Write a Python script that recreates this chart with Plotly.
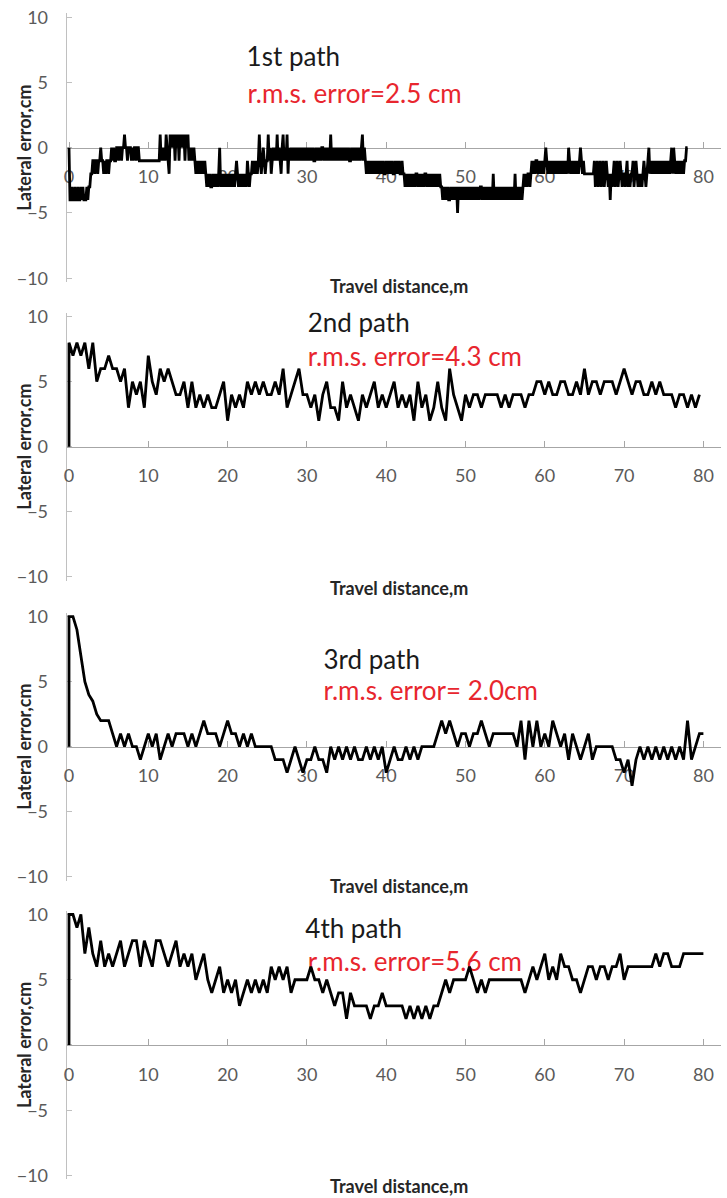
import plotly.graph_objects as go

W, H = 727, 1198

# ---------------- data (lateral error, cm) ----------------
# 1st path sampled every 0.125 m from 0 m (one row = 1 m)
step1 = 0.125
path1_err = [
    0, -4, -4, -3, -4, -4, -3, -4,
    -4, -3, -4, -4, -3, -4, -3, -4,
    -4, -4, -3, -4, -3, -3, -2, -2,
    -1, -1, -2, -1, -1, -2, -1, -1,
    0, -1, -1, -2, -1, -2, -1, -1,
    -2, -1, -1, 0, -1, 0, -1, -1,
    0, 0, -1, 0, 0, -1, 0, 0,
    1, 0, 0, -1, 0, 0, 0, -1,
    0, -1, 0, 0, -1, 0, 0, -1,
    -1, -1, -1, -1, -1, -1, -1, -1,
    -1, -1, -1, -1, -1, -1, -1, -1,
    -1, -1, -1, -1, 1, -1, 0, -1,
    0, -1, 1, 0, -1, -2, 1, 0,
    1, 0, 1, -1, 1, 0, 1, -1,
    1, 0, 1, 0, 1, -1, 1, 0,
    1, -1, 0, -1, 0, -1, 0, -1,
    -2, -1, -2, -1, -2, -1, -2, -1,
    -2, -1, -2, -3, -2, -3, -2, -3,
    -3, -2, -3, -2, -3, -2, -3, -2,
    0, -3, -2, -3, -2, -3, -2, -3,
    -2, -3, -2, -3, -2, -3, -2, -3,
    -2, -1, -2, -3, -2, -3, -2, -3,
    -2, -3, -2, -3, -1, -2, -3, -2,
    -2, -1, -2, -1, -2, -1, -2, -1,
    1, -1, -2, -1, 0, -1, -2, -1,
    -1, 1, -1, 0, -2, -1, 0, -1,
    0, -1, 1, -1, 0, -1, -2, 0,
    1, -1, 0, -1, 1, -2, 0, -1,
    0, -1, 0, -1, 0, -1, 0, -1,
    0, -1, 0, -1, 0, -1, 0, -1,
    0, -1, 0, -1, 0, -1, 0, -1,
    -1, 0, -1, 0, -1, 0, -1, 0,
    0, -1, 0, -1, 0, -1, 0, -1,
    1, -1, 0, -1, 0, -1, 0, -1,
    0, -1, 0, -1, 0, -1, 0, -1,
    0, -1, 0, -1, -1, 0, -1, 0,
    -1, 0, -1, 0, -1, 0, -1, 0,
    1, -1, 0, -1, -2, -1, -2, -1,
    -2, -1, -2, -1, -2, -1, -2, -1,
    -2, -1, -2, -1, -2, -1, -2, -2,
    -1, -2, -1, -2, -1, -2, -1, -2,
    -2, -1, -2, -1, -2, -1, -2, -2,
    -1, -2, -2, -3, -2, -3, -2, -3,
    -2, -3, -2, -3, -2, -3, -2, -2,
    -3, -2, -3, -2, -3, -2, -3, -2,
    -2, -3, -2, -3, -2, -3, -2, -3,
    -2, -3, -2, -3, -2, -3, -2, -3,
    -3, -4, -3, -4, -3, -4, -3, -4,
    -4, -3, -4, -3, -4, -3, -4, -3,
    -5, -3, -4, -3, -4, -3, -4, -3,
    -4, -3, -4, -3, -4, -3, -4, -3,
    -4, -3, -4, -3, -4, -3, -4, -3,
    -3, -4, -3, -4, -3, -4, -3, -4,
    -3, -4, -3, -4, -2, -4, -3, -4,
    -3, -4, -3, -4, -3, -4, -3, -4,
    -3, -4, -3, -4, -3, -4, -3, -4,
    -3, -4, -2, -4, -3, -4, -3, -4,
    -3, -4, -3, -2, -3, -2, -3, -2,
    -2, -3, -2, -1, -2, -1, -2, -1,
    -1, -2, -1, -2, -1, -2, -1, -2,
    -1, 0, -1, -2, -1, -2, -1, -2,
    -1, -2, -1, -2, -1, -2, -1, -2,
    -1, -2, -1, -2, -1, -2, -1, -2,
    0, -1, -2, -1, -2, -1, -2, -1,
    -2, -1, -2, -1, 0, -1, -2, -1,
    -2, -2, -2, -2, -2, -2, -2, -2,
    -2, -2, -1, -3, -2, -1, -3, -2,
    -1, -3, -2, -1, -3, -2, -1, -2,
    -3, -2, -4, -2, -3, -2, -1, -3,
    -2, -1, -3, -2, -1, -2, -3, -2,
    -2, -3, -2, -1, -3, -2, -3, -2,
    -2, -1, -3, -2, -1, -2, -3, -2,
    -3, -2, -3, -2, -1, -2, -3, -2,
    -1, 0, -2, -1, -2, -1, -2, -1,
    -2, -1, -2, -1, -2, -1, -2, -1,
    -2, -1, -2, -1, -2, -1, -2, -1,
    0, -2, 0, -1, -2, -1, -2, -1,
    -2, -1, -2, -1, -2, -1, -1, 0,
    0,
]

# paths 2-4 sampled every 0.5 m from 0 m (each starts from 0 cm at 0 m)
step2 = 0.5
path2_err = [
    8, 7, 8, 7, 8, 6, 8, 5, 6, 6, 7, 6, 6, 5, 6, 3, 5, 4, 5, 3,
    7, 5, 4, 6, 5, 6, 5, 4, 4, 5, 3, 5, 3, 4, 3, 4, 3, 3, 4, 5,
    2, 4, 3, 4, 3, 5, 4, 5, 4, 5, 4, 4, 5, 4, 6, 3, 4, 5, 6, 4,
    4, 3, 4, 2, 4, 5, 3, 3, 2, 5, 3, 4, 3, 2, 4, 3, 4, 5, 3, 4,
    3, 4, 5, 3, 4, 3, 4, 2, 5, 3, 4, 2, 3, 5, 3, 2, 6, 4, 3, 2,
    4, 3, 4, 4, 3, 4, 4, 4, 4, 3, 4, 3, 4, 4, 4, 3, 4, 4, 5, 5,
    4, 5, 4, 4, 5, 5, 4, 4, 5, 4, 6, 4, 5, 5, 4, 5, 5, 5, 4, 5,
    6, 5, 4, 5, 5, 4, 4, 5, 4, 5, 4, 4, 4, 3, 4, 4, 3, 4, 3, 4,
]
path3_err = [
    10, 10, 9, 7, 5, 4, 3.5, 2.5, 2, 2, 2, 1, 0, 1, 0, 1, 0, 0, -1, 0,
    1, 0, 1, -1, 0, 1, 0, 1, 1, 1, 0, 1, 0, 1, 2, 1, 1, 1, 0, 1,
    2, 1, 1, 0, 1, 0, 1, 0, 0, 0, 0, 0, -1, -1, -1, -2, -1, 0, -1, -2,
    -1, -1, 0, -1, -1, -2, 0, -1, 0, -1, 0, -1, 0, -1, -1, 0, -1, 0, -1, 0,
    -2, -1, 0, -1, -1, 0, -1, 0, -1, 0, 0, 0, 0, 1, 2, 1, 2, 1, 0, 1,
    1, 0, 1, 1, 2, 1, 0, 1, 1, 1, 1, 1, 1, 0, 2, -1, 2, 0, 2, 0,
    1, 0, 2, 1, 0, 1, -1, 1, 0, -1, 0, 1, -1, 0, 0, 0, 0, 0, -1, -1,
    -2, -1, -3, -1, 0, -1, 0, -1, 0, -1, 0, -1, 0, -1, 0, -1, 2, -1, 0, 1,
    1,
]
path4_err = [
    10, 10, 9, 10, 7, 9, 7, 6, 8, 6, 7, 6, 7, 8, 6, 7, 8, 8, 6, 8,
    7, 6, 8, 8, 7, 6, 7, 8, 6, 7, 6, 7, 5, 6, 7, 5, 4, 5, 6, 4,
    5, 4, 5, 3, 4, 5, 4, 5, 4, 5, 4, 6, 5, 6, 5, 6, 4, 5, 5, 5,
    5, 6, 5, 5, 4, 5, 4, 3, 4, 4, 2, 4, 3, 3, 3, 3, 2, 3, 3, 4,
    3, 3, 3, 3, 3, 2, 3, 2, 3, 2, 3, 2, 3, 3, 4, 5, 4, 5, 5, 5,
    5, 6, 5, 4, 5, 4, 5, 5, 5, 5, 5, 5, 5, 5, 5, 4, 5, 6, 5, 6,
    7, 5, 6, 5, 7, 6, 6, 5, 5, 4, 5, 6, 6, 5, 6, 6, 5, 6, 6, 7,
    5, 6, 6, 6, 6, 6, 6, 6, 7, 6, 7, 7, 6, 6, 6, 7, 7, 7, 7, 7,
    7,
]

path_names = ["1st path", "2nd path", "3rd path", "4th path"]
rms_labels = ["r.m.s. error=2.5 cm", "r.m.s. error=4.3 cm",
              "r.m.s. error= 2.0cm", "r.m.s. error=5.6 cm"]
y_ticks = [-10, -5, 0, 5, 10]
x_title = "Travel distance,m"
y_title = "Lateral error,cm"

# ---------------- build series ----------------
series = []
series.append(([i * step1 for i in range(len(path1_err))], path1_err))
for vals in (path2_err, path3_err, path4_err):
    xs = [0] + [i * step2 for i in range(len(vals))]
    ys = [0] + list(vals)
    series.append((xs, ys))

# ---------------- layout geometry (pixels) ----------------
zero_px = [147.7, 446.7, 746.7, 1045.0]   # pixel row of y=0 in each panel
unit_px = [13.05, 13.0, 13.0, 13.05]       # pixels per cm
name_pos = [(22.4, 6.75), (30.1, 9.3), (32.1, 6.5), (29.8, 8.7)]
rms_pos = [(22.5, 3.9), (30.1, 6.7), (32.1, 4.1), (30.1, 6.2)]
xtitle_px = [286, 588, 886, 1186]

x_lo, x_hi = -0.3, 82.2
px_per_m = 7.93
x_left_px = 69 + x_lo * px_per_m
x_right_px = x_left_px + (x_hi - x_lo) * px_per_m
ext = 10.3

FONT = "Lato"
fig = go.Figure()
annotations = []
layout = {}

for i in range(4):
    n = "" if i == 0 else str(i + 1)
    xa, ya = "x" + n, "y" + n
    z, k = zero_px[i], unit_px[i]
    top_px, bot_px = z - ext * k, z + ext * k

    # labels inside the plot (drawn under the data line)
    fig.add_trace(go.Scatter(
        x=[name_pos[i][0]], y=[name_pos[i][1]], mode="text",
        text=[path_names[i]], textposition="middle right",
        textfont=dict(family=FONT, size=26, color="#1a1a1a"),
        xaxis=xa, yaxis=ya, showlegend=False, hoverinfo="skip"))
    fig.add_trace(go.Scatter(
        x=[rms_pos[i][0]], y=[rms_pos[i][1]], mode="text",
        text=[rms_labels[i]], textposition="middle right",
        textfont=dict(family=FONT, size=26, color="#e8262e"),
        xaxis=xa, yaxis=ya, showlegend=False, hoverinfo="skip"))
    xs, ys = series[i]
    fig.add_trace(go.Scatter(
        x=xs, y=ys, mode="lines",
        line=dict(color="black", width=2.8),
        xaxis=xa, yaxis=ya, showlegend=False))

    layout["xaxis" + n] = dict(
        domain=[x_left_px / W, x_right_px / W],
        range=[x_lo, x_hi], anchor="free", position=1 - z / H,
        tick0=0, dtick=10, showline=True, linecolor="#a6a6a6", linewidth=1,
        ticks="inside", ticklen=6, tickcolor="#a6a6a6",
        showgrid=False, zeroline=False, layer="below traces",
        ticklabelstandoff=13, automargin=False,
        tickfont=dict(family=FONT, size=18, color="#5a5a5a"))
    layout["yaxis" + n] = dict(
        domain=[1 - bot_px / H, 1 - top_px / H], anchor=xa,
        range=[-ext, ext], tickvals=y_ticks,
        showline=True, linecolor="#c0c0c0", linewidth=1,
        ticks="inside", ticklen=5, tickcolor="#c0c0c0",
        showgrid=False, zeroline=False, layer="below traces",
        ticklabelstandoff=14, automargin=False,
        tickfont=dict(family=FONT, size=18, color="#5a5a5a"))

    annotations.append(dict(
        text="<b>" + x_title + "</b>", xref="paper", yref="paper",
        x=399 / W, y=1 - xtitle_px[i] / H, showarrow=False,
        xanchor="center", yanchor="middle",
        font=dict(family=FONT, size=18, color="#262626")))
    annotations.append(dict(
        text="<b>" + y_title + "</b>", xref="paper", yref="paper",
        x=24 / W, y=1 - z / H, showarrow=False, textangle=-90,
        xanchor="center", yanchor="middle",
        font=dict(family=FONT, size=18, color="#262626")))

fig.update_layout(
    width=W, height=H, margin=dict(l=0, r=0, t=0, b=0, pad=0),
    autosize=False,
    paper_bgcolor="white", plot_bgcolor="white",
    annotations=annotations, **layout)

page_fix = (
    "document.documentElement.style.margin='0px';"
    "document.documentElement.style.padding='0px';"
    "document.documentElement.style.overflow='hidden';"
    "document.body.style.margin='0px';"
    "document.body.style.padding='0px';"
    "document.body.style.overflow='hidden';"
)
fig.write_html("out.html", config={"displayModeBar": False},
               post_script=page_fix)
